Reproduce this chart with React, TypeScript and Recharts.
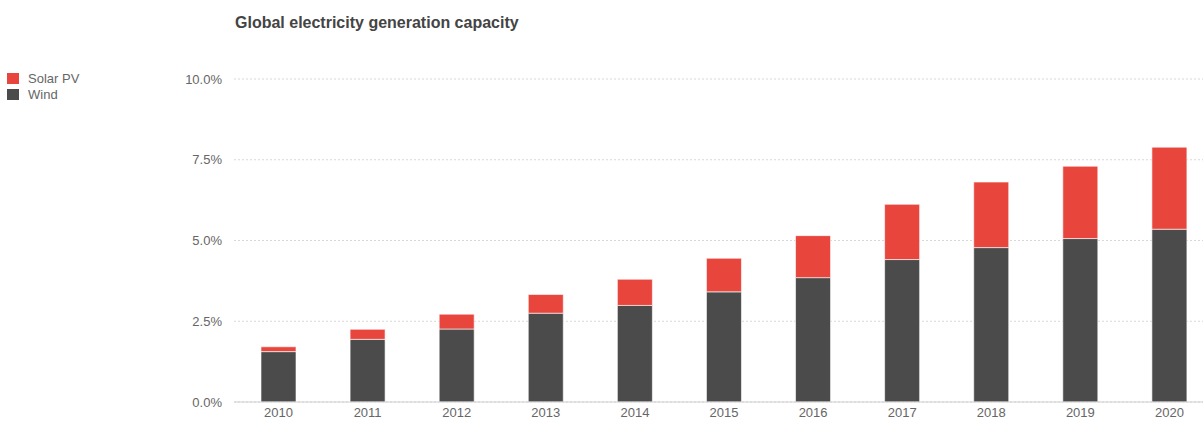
import React from "react";
import { BarChart, Bar, XAxis, YAxis, CartesianGrid } from "recharts";

const years = ["2010", "2011", "2012", "2013", "2014", "2015", "2016", "2017", "2018", "2019", "2020"];
const wind = [1.56, 1.94, 2.26, 2.75, 2.99, 3.41, 3.85, 4.41, 4.78, 5.06, 5.35];
const solar = [0.15, 0.31, 0.46, 0.58, 0.81, 1.04, 1.3, 1.71, 2.03, 2.24, 2.54];
const yTicks = [0, 2.5, 5, 7.5, 10];

const data = years.map((y, i) => ({ year: y, wind: wind[i], solar: solar[i] }));

const RED = "#E8453C";
const DARK = "#4B4B4B";
const FONT = "'Liberation Sans', Arial, Helvetica, sans-serif";

export default function App() {
  return (
    <div style={{ position: "absolute", left: 0, top: 0, width: 1203, height: 423, overflow: "hidden", background: "#fff", fontFamily: FONT }}>
      <div style={{ position: "absolute", left: 235, top: 13, fontSize: 16, lineHeight: "20px", fontWeight: 700, color: "#444", whiteSpace: "nowrap" }}>
        Global electricity generation capacity
      </div>
      <div style={{ position: "absolute", left: 7, top: 70, fontSize: 13, color: "#666" }}>
        <div style={{ display: "flex", alignItems: "center", height: 16 }}>
          <span style={{ width: 12, height: 11, background: RED, display: "inline-block", marginRight: 9 }} />
          Solar PV
        </div>
        <div style={{ display: "flex", alignItems: "center", height: 16 }}>
          <span style={{ width: 12, height: 11, background: DARK, display: "inline-block", marginRight: 9 }} />
          Wind
        </div>
      </div>
      <div style={{ position: "absolute", left: 0, top: 0 }}>
        <BarChart width={1214} height={423} data={data} margin={{ top: 79, right: 0, bottom: 0, left: 0 }}>
          <CartesianGrid vertical={false} stroke="#d8d8d8" strokeDasharray="2 2" />
          <XAxis
            dataKey="year"
            height={21}
            tickLine={false}
            axisLine={{ stroke: "#cfcfcf" }}
            tick={{ fontSize: 13, fill: "#666", fontFamily: FONT }}
            tickMargin={0}
          />
          <YAxis
            width={234}
            domain={[0, 10]}
            ticks={yTicks}
            tickFormatter={(v: number) => v.toFixed(1) + "%"}
            axisLine={false}
            tickLine={false}
            tickMargin={6}
            tick={{ fontSize: 13, fill: "#666", fontFamily: FONT }}
          />
          <Bar dataKey="wind" stackId="a" fill={DARK} barSize={35} stroke="#fff" strokeWidth={0.6} isAnimationActive={false} />
          <Bar dataKey="solar" stackId="a" fill={RED} barSize={35} stroke="#fff" strokeWidth={0.6} isAnimationActive={false} />
        </BarChart>
      </div>
    </div>
  );
}
